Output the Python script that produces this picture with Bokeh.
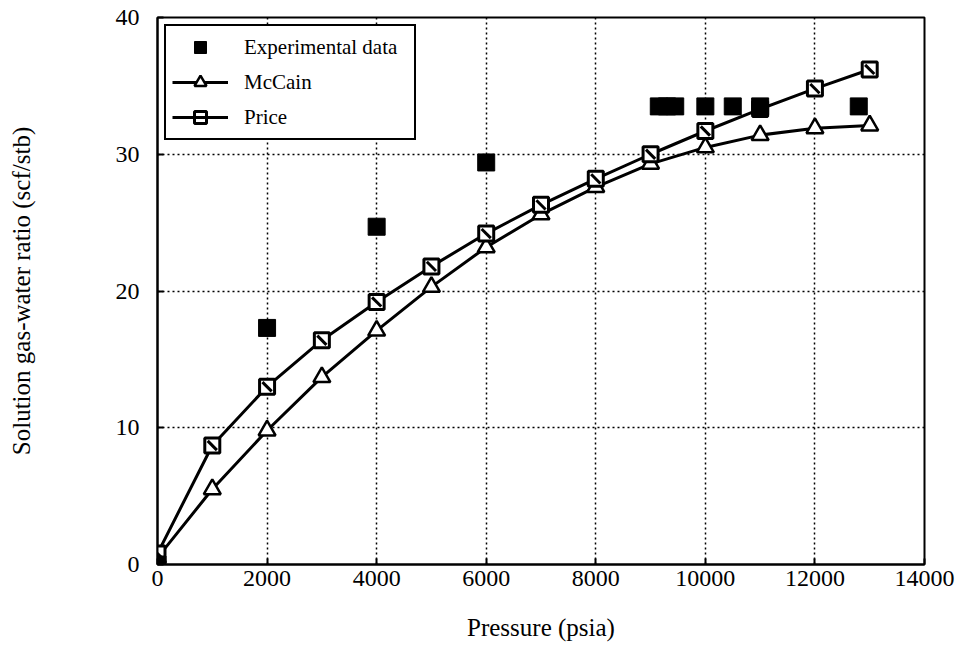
import math
from bokeh.plotting import figure
from bokeh.models import Range1d, Legend, LegendItem, FixedTicker
from bokeh.embed import file_html
from bokeh.resources import INLINE

exp_p = [0, 2000, 4000, 6000, 9150, 9300, 9450, 10000, 10500, 11000, 12800]
exp_r = [0, 17.3, 24.7, 29.4, 33.5, 33.5, 33.5, 33.5, 33.5, 33.5, 33.5]

model_p = [0, 1000, 2000, 3000, 4000, 5000, 6000, 7000, 8000, 9000, 10000, 11000, 12000, 13000]
mccain_r = [0.5, 5.5, 9.8, 13.7, 17.1, 20.3, 23.2, 25.6, 27.6, 29.3, 30.5, 31.4, 31.9, 32.1]
price_r = [0.8, 8.7, 13.0, 16.4, 19.2, 21.8, 24.2, 26.3, 28.2, 30.0, 31.7, 33.3, 34.8, 36.2]

x_ticks = [0, 2000, 4000, 6000, 8000, 10000, 12000, 14000]
y_ticks = [0, 10, 20, 30, 40]

FONT = "Liberation Serif"

p = figure(width=962, height=647, output_backend="svg", toolbar_location=None,
           x_range=Range1d(0, 14000), y_range=Range1d(0, 40),
           min_border_left=157, min_border_right=38, min_border_top=17, min_border_bottom=83,
           background_fill_color="white", border_fill_color="white")

p.outline_line_color = "black"
p.outline_line_width = 2

for ax in (p.xaxis[0], p.yaxis[0]):
    ax.axis_line_color = "black"
    ax.axis_line_width = 2
    ax.major_tick_in = 6
    ax.major_tick_out = 0
    ax.major_tick_line_width = 2
    ax.minor_tick_line_color = None
    ax.major_label_text_font = FONT
    ax.major_label_text_font_size = "24px"
    ax.major_label_text_color = "black"
    ax.axis_label_text_font = FONT
    ax.axis_label_text_font_size = "25px"
    ax.axis_label_text_font_style = "normal"
    ax.axis_label_text_color = "black"

p.xaxis.ticker = FixedTicker(ticks=x_ticks)
p.yaxis.ticker = FixedTicker(ticks=y_ticks)
p.xaxis.axis_label = "Pressure (psia)"
p.yaxis.axis_label = "Solution gas-water ratio (scf/stb)"
p.xaxis.major_label_standoff = 6
p.yaxis.major_label_standoff = 18
p.xaxis.axis_label_standoff = 25
p.yaxis.axis_label_standoff = 78

p.xgrid.ticker = FixedTicker(ticks=x_ticks)
p.ygrid.ticker = FixedTicker(ticks=y_ticks)
for g in (p.xgrid[0], p.ygrid[0]):
    g.grid_line_color = "black"
    g.grid_line_width = 1.5
    g.grid_line_dash = "2 3"

mc_line = p.line(model_p, mccain_r, line_color="black", line_width=3)
mc_mark = p.scatter(model_p, mccain_r, marker="triangle", size=17,
                    fill_color="white", line_color="black", line_width=2.5)

pr_line = p.line(model_p, price_r, line_color="black", line_width=3)
pr_mark = p.scatter(model_p, price_r, marker="square", size=15,
                    fill_color="white", line_color="black", line_width=3)
pr_slash = p.scatter(model_p, price_r, marker="dash", size=13, angle=-math.pi / 4,
                     line_color="black", line_width=3)

ex_mark = p.scatter(exp_p, exp_r, marker="square", size=17,
                    fill_color="black", line_color="black", line_width=1)

legend = Legend(items=[
    LegendItem(label="Experimental data", renderers=[ex_mark]),
    LegendItem(label="McCain", renderers=[mc_line, mc_mark]),
    LegendItem(label="Price", renderers=[pr_line, pr_mark, pr_slash]),
], location="top_left")
legend.margin = 7
legend.padding = 6
legend.spacing = 5
legend.glyph_width = 56
legend.glyph_height = 30
legend.label_width = 164
legend.label_text_font = FONT
legend.label_text_font_size = "21px"
legend.label_text_color = "black"
legend.border_line_color = "black"
legend.border_line_alpha = 1
legend.border_line_width = 2.5
legend.background_fill_alpha = 1
legend.label_standoff = 16
p.add_layout(legend)

open("out.html", "w").write(file_html(p, INLINE))
